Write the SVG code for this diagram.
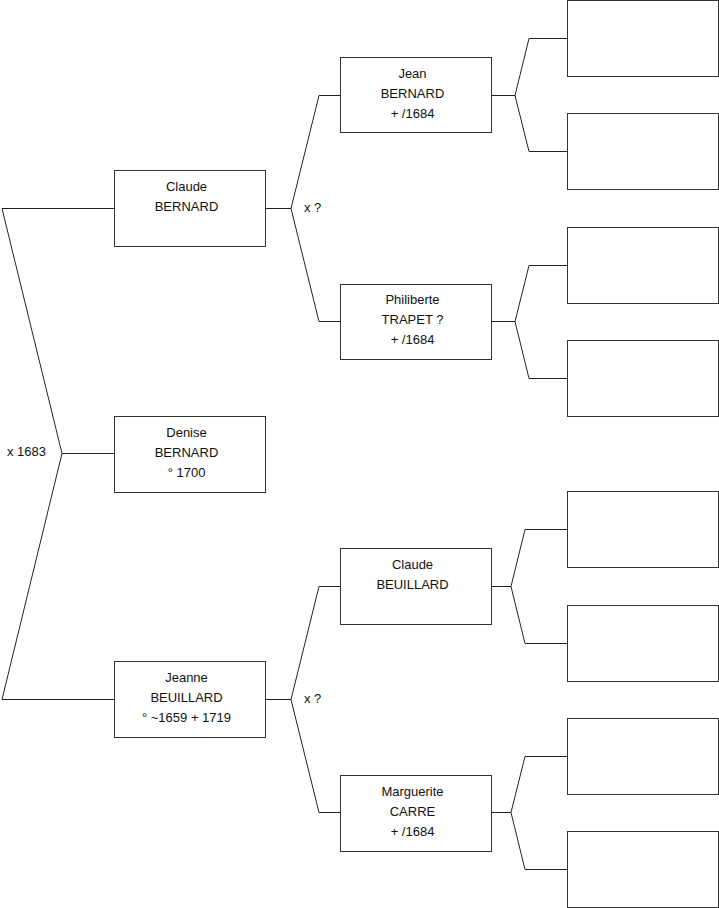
<svg xmlns="http://www.w3.org/2000/svg" width="719" height="908" viewBox="0 0 719 908">
<style>
.box{fill:#fff;stroke:#333;stroke-width:1}
.ln{fill:none;stroke:#222;stroke-width:1}
text{font-family:"Liberation Sans",Arial,sans-serif;font-size:13px;fill:#111}
.c{text-anchor:middle}
</style>
<rect width="719" height="908" fill="#fff"/>
<g id="connectors">
<path class="ln" d="M114 208.5 H2 L62 453.5 L2 699.5 H114 M62 453.5 H114"/>
<path class="ln" d="M265 208.5 H291 L319 95.5 H341 M291 208.5 L319 321.5 H341"/>
<path class="ln" d="M265 699.5 H291 L319 586.5 H341 M291 699.5 L319 812.5 H341"/>
<path class="ln" d="M492 95.5 H515 L529 38.5 H567 M515 95.5 L529 151.5 H567"/>
<path class="ln" d="M492 321.5 H515 L529 265.5 H567 M515 321.5 L529 378.5 H567"/>
<path class="ln" d="M492 586.5 H511 L525 529.5 H567 M511 586.5 L525 643.5 H567"/>
<path class="ln" d="M492 812.5 H511 L525 756.5 H567 M511 812.5 L525 869.5 H567"/>
</g>
<g id="labels">
<text x="7" y="456">x 1683</text>
<text x="304" y="212">x ?</text>
<text x="304" y="703">x ?</text>
</g>
<g id="claude-bernard"><rect class="box" x="114.5" y="170.5" width="151" height="76"/><text class="c" x="186.5" y="191">Claude</text><text class="c" x="186.5" y="211">BERNARD</text></g>
<g id="denise-bernard"><rect class="box" x="114.5" y="416.5" width="151" height="76"/><text class="c" x="186.5" y="437">Denise</text><text class="c" x="186.5" y="457">BERNARD</text><text class="c" x="186.5" y="477">° 1700</text></g>
<g id="jeanne-beuillard"><rect class="box" x="114.5" y="661.5" width="151" height="76"/><text class="c" x="186.5" y="682">Jeanne</text><text class="c" x="186.5" y="702">BEUILLARD</text><text class="c" x="186.5" y="722">° ~1659 + 1719</text></g>
<g id="jean-bernard"><rect class="box" x="340.5" y="57.5" width="151" height="75"/><text class="c" x="412.5" y="78">Jean</text><text class="c" x="412.5" y="98">BERNARD</text><text class="c" x="412.5" y="118">+ /1684</text></g>
<g id="philiberte-trapet"><rect class="box" x="340.5" y="284.5" width="151" height="75"/><text class="c" x="412.5" y="304">Philiberte</text><text class="c" x="412.5" y="324">TRAPET ?</text><text class="c" x="412.5" y="344">+ /1684</text></g>
<g id="claude-beuillard"><rect class="box" x="340.5" y="548.5" width="151" height="76"/><text class="c" x="412.5" y="569">Claude</text><text class="c" x="412.5" y="589">BEUILLARD</text></g>
<g id="marguerite-carre"><rect class="box" x="340.5" y="775.5" width="151" height="76"/><text class="c" x="412.5" y="796">Marguerite</text><text class="c" x="412.5" y="816">CARRE</text><text class="c" x="412.5" y="836">+ /1684</text></g>
<g id="gp1"><rect class="box" x="567.5" y="0.5" width="151" height="76"/></g>
<g id="gp2"><rect class="box" x="567.5" y="113.5" width="151" height="76"/></g>
<g id="gp3"><rect class="box" x="567.5" y="227.5" width="151" height="76"/></g>
<g id="gp4"><rect class="box" x="567.5" y="340.5" width="151" height="76"/></g>
<g id="gp5"><rect class="box" x="567.5" y="491.5" width="151" height="76"/></g>
<g id="gp6"><rect class="box" x="567.5" y="605.5" width="151" height="76"/></g>
<g id="gp7"><rect class="box" x="567.5" y="718.5" width="151" height="76"/></g>
<g id="gp8"><rect class="box" x="567.5" y="831.5" width="151" height="76"/></g>
</svg>
